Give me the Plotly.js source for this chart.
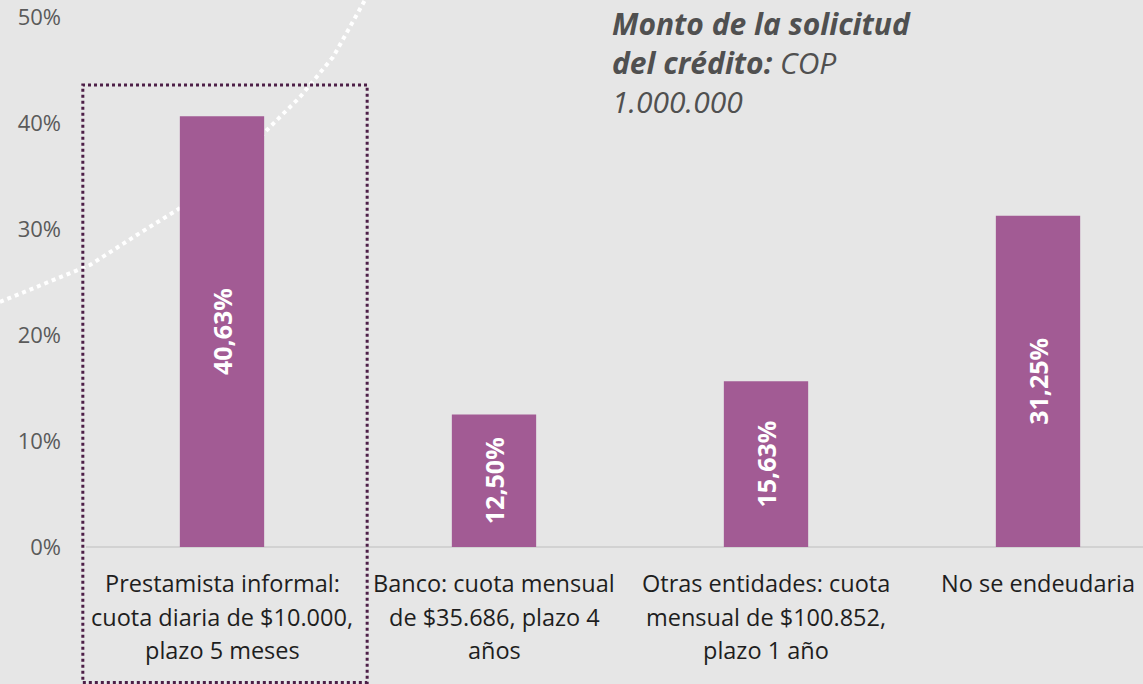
<!DOCTYPE html>
<html>
<head>
<meta charset="utf-8">
<script src="https://cdn.plot.ly/plotly-3.0.1.min.js"></script>
<style>
html,body{margin:0;padding:0;background:#e6e6e6;}
#chart{width:1143px;height:684px;}
</style>
</head>
<body>
<div id="chart"></div>
<script>
// Data
const categories = [
  "Prestamista informal:<br>cuota diaria de $10.000,<br>plazo 5 meses",
  "Banco: cuota mensual<br>de $35.686, plazo 4<br>años",
  "Otras entidades: cuota<br>mensual de $100.852,<br>plazo 1 año",
  "No se endeudaria"
];
const values = [40.63, 12.50, 15.63, 31.25];
const yTickVals = [0, 10, 20, 30, 40, 50];
const yTickText = ["0%", "10%", "20%", "30%", "40%", "50%"];
const noteLines = [
  "<b><i>Monto de la solicitud</i></b>",
  "<b><i>del crédito:</i></b><i> COP</i>",
  "<i>1.000.000</i>"
];

const FONT = "Open Sans, Noto Sans, sans-serif";
const barColor = "#a25b94";

const trace = {
  type: "bar",
  x: categories,
  y: values,
  width: 0.31,
  marker: {color: barColor},
  texttemplate: "%{y:.2f}%",
  textposition: "inside",
  insidetextanchor: "middle",
  textangle: -90,
  constraintext: "none",
  textfont: {family: FONT, size: 25, color: "#ffffff", weight: "bold"},
  hoverinfo: "none",
  cliponaxis: false
};

const annotations = [];
// category labels, drawn line by line
categories.forEach((c, i) => {
  c.split("<br>").forEach((line, j) => {
    annotations.push({
      x: c, xref: "x", y: 0, yref: "y",
      text: line, showarrow: false,
      xanchor: "center", yanchor: "middle",
      yshift: -36 - j * 33.5,
      font: {family: FONT, size: 23.5, color: "#1e1e1e"}
    });
  });
});
// note
annotations.push({
  x: 0.4967, xref: "paper", y: 0.915, yref: "paper",
  text: noteLines.join("<br>"), showarrow: false,
  xanchor: "left", yanchor: "middle", align: "left", borderpad: 0,
  font: {family: FONT, size: 30, color: "#505050"}
});

const layout = {
  width: 1143, height: 684,
  margin: {l: 86, r: 0, t: 17, b: 137},
  paper_bgcolor: "#e6e6e6",
  plot_bgcolor: "rgba(0,0,0,0)",
  separators: ",.",
  showlegend: false,
  font: {family: FONT},
  xaxis: {
    type: "category",
    range: [-0.5, 3.386],
    showticklabels: false,
    showgrid: false, zeroline: false, showline: false, ticks: ""
  },
  yaxis: {
    range: [0, 50],
    tickmode: "array",
    tickvals: yTickVals,
    ticktext: yTickText,
    showgrid: false,
    zeroline: true, zerolinecolor: "#d2d2d2", zerolinewidth: 2,
    showline: false,
    ticks: "",
    ticklabelstandoff: 24,
    tickfont: {family: FONT, size: 22, color: "#5a5a5a"}
  },
  annotations: annotations,
  shapes: [
    {
      type: "path", xref: "paper", yref: "paper", layer: "below",
      path: "M -0.0814 0.4623 L 0.0038 0.5321 L 0.0511 0.5925 L 0.0861 0.6358 L 0.1268 0.6925 L 0.1712 0.7868 L 0.2025 0.8491 L 0.2337 0.9245 L 0.2640 1.0321 L 0.2706 1.0547",
      line: {color: "#ffffff", width: 4, dash: "dot"}
    },
    {
      type: "rect", xref: "paper", yref: "paper", layer: "above",
      x0: -0.003, x1: 0.266, y0: -0.2557, y1: 0.8717,
      line: {color: "#4d1f47", width: 3, dash: "dot"}
    }
  ]
};

Plotly.newPlot("chart", [trace], layout, {displayModeBar: false, staticPlot: true});
</script>
</body>
</html>
